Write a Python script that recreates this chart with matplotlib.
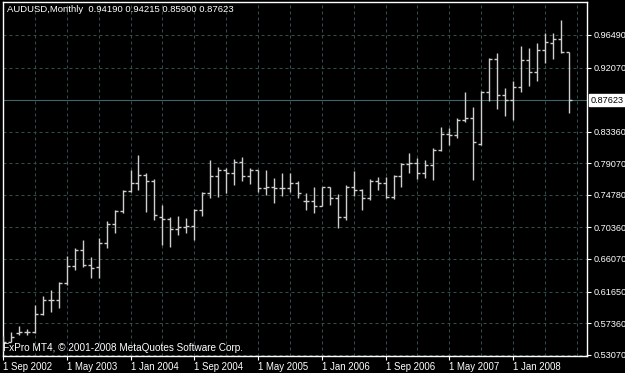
import matplotlib
matplotlib.use("Agg")
import matplotlib.pyplot as plt
import numpy as np

# AUDUSD monthly bars, Sep 2002 .. Aug 2008
opens = [0.540, 0.548, 0.560, 0.5615, 0.5615, 0.586, 0.605, 0.605, 0.628, 0.651,
         0.673, 0.652, 0.650, 0.683, 0.708, 0.7265, 0.753, 0.7645, 0.775, 0.766,
         0.718, 0.715, 0.701, 0.704, 0.705, 0.727, 0.750, 0.774, 0.782, 0.777,
         0.793, 0.773, 0.7817, 0.757, 0.758, 0.757, 0.757, 0.764, 0.740, 0.740,
         0.733, 0.758, 0.743, 0.718, 0.759, 0.754, 0.743, 0.767, 0.764, 0.7445,
         0.7736, 0.7899, 0.791, 0.778, 0.788, 0.809, 0.831, 0.829, 0.849, 0.852,
         0.8166, 0.888, 0.932, 0.884, 0.8767, 0.8948, 0.931, 0.914, 0.9446, 0.9537,
         0.959, 0.94190]
highs = [0.5565, 0.561, 0.569, 0.566, 0.5976, 0.611, 0.619, 0.629, 0.665, 0.675,
         0.687, 0.664, 0.6895, 0.7116, 0.7275, 0.7546, 0.782, 0.8015, 0.778, 0.769,
         0.7342, 0.7175, 0.719, 0.716, 0.7284, 0.752, 0.7953, 0.7853, 0.784, 0.796,
         0.7997, 0.784, 0.782, 0.7817, 0.770, 0.777, 0.777, 0.766, 0.750, 0.759,
         0.759, 0.759, 0.749, 0.761, 0.7804, 0.7555, 0.769, 0.7725, 0.7725, 0.775,
         0.7916, 0.805, 0.7976, 0.795, 0.812, 0.8405, 0.8383, 0.852, 0.888, 0.8676,
         0.889, 0.934, 0.940, 0.8926, 0.9025, 0.950, 0.9469, 0.9545, 0.967, 0.967,
         0.9853, 0.94215]
lows = [0.536, 0.5474, 0.557, 0.558, 0.560, 0.585, 0.589, 0.594, 0.626, 0.646,
        0.650, 0.635, 0.635, 0.675, 0.696, 0.723, 0.751, 0.755, 0.725, 0.714,
        0.680, 0.677, 0.6935, 0.696, 0.686, 0.719, 0.743, 0.745, 0.750, 0.761,
        0.766, 0.763, 0.752, 0.748, 0.737, 0.746, 0.752, 0.743, 0.727, 0.723,
        0.732, 0.734, 0.7026, 0.713, 0.746, 0.727, 0.741, 0.755, 0.743, 0.742,
        0.759, 0.777, 0.769, 0.770, 0.768, 0.807, 0.816, 0.8255, 0.8463, 0.768,
        0.815, 0.875, 0.865, 0.8553, 0.850, 0.888, 0.895, 0.903, 0.9265, 0.932,
        0.940, 0.85900]
closes = [0.548, 0.555, 0.562, 0.5615, 0.586, 0.605, 0.605, 0.628, 0.651, 0.673,
          0.652, 0.649, 0.683, 0.708, 0.7265, 0.753, 0.7645, 0.775, 0.766, 0.721,
          0.715, 0.701, 0.704, 0.705, 0.727, 0.750, 0.774, 0.782, 0.777, 0.793,
          0.773, 0.7817, 0.757, 0.758, 0.757, 0.757, 0.764, 0.750, 0.740, 0.733,
          0.758, 0.743, 0.718, 0.759, 0.754, 0.743, 0.767, 0.764, 0.7445, 0.7736,
          0.7899, 0.791, 0.778, 0.788, 0.809, 0.831, 0.829, 0.849, 0.852, 0.819,
          0.888, 0.932, 0.884, 0.8767, 0.8948, 0.931, 0.914, 0.9446, 0.956, 0.959,
          0.9423, 0.87623]

price_ticks = [0.53070, 0.57360, 0.61650, 0.66070, 0.70360, 0.74780,
               0.79070, 0.83360, 0.92070, 0.96490]
date_labels = ["1 Sep 2002", "1 May 2003", "1 Jan 2004", "1 Sep 2004", "1 May 2005",
               "1 Jan 2006", "1 Sep 2006", "1 May 2007", "1 Jan 2008"]
last_price = 0.87623

W, H = 625, 373
FONT = "Liberation Sans"
GRID = "#2f4f4f"
BAR = "#cfcfcf"

fig = plt.figure(figsize=(W / 100, H / 100), dpi=100)
fig.patch.set_facecolor("black")
ax = fig.add_axes([3 / W, 1 - 356 / H, 584 / W, 354 / H])
ax.set_facecolor("black")

n = len(closes)
x = np.arange(n)
px = 1 / 7.97  # one pixel in bar units
ax.set_xlim(0, 584 * px)
ax.set_ylim(0.5289, 1.0097)

# grid
for gx in range(4, 73, 4):
    ax.axvline(gx, color=GRID, lw=0.72, ls=(0, (3, 3)), zorder=1)
for gy in price_ticks + [0.87650]:
    ax.axhline(gy, color=GRID, lw=0.72, ls=(0, (3, 3)), zorder=1)

# price line
ax.axhline(last_price, color="#3e6666", lw=0.8, zorder=2)

# OHLC bars
ax.vlines(x, lows, highs, color=BAR, lw=1.0, zorder=3)
ax.hlines(opens, x - 3 * px, x, color=BAR, lw=1.0, zorder=3)
ax.hlines(closes, x, x + 3 * px, color=BAR, lw=1.0, zorder=3)

for s in ax.spines.values():
    s.set_color("white")
    s.set_linewidth(1.0)

ax.yaxis.tick_right()
ax.set_yticks(price_ticks)
ax.set_yticklabels(["%.5f" % p for p in price_ticks])
ax.set_xticks(np.arange(0, 8 * len(date_labels), 8))
ax.set_xticklabels(date_labels)
for lbl in ax.get_xticklabels():
    lbl.set_horizontalalignment("left")
ax.tick_params(colors="white", labelsize=6.6, length=3, width=0.8, pad=1.5)
ax.tick_params(axis="x", labelsize=6.9)
for lbl in ax.get_xticklabels() + ax.get_yticklabels():
    lbl.set_family(FONT)

# current price box
ax.annotate("%.5f" % last_price, xy=(1, last_price), xycoords=("axes fraction", "data"),
            xytext=(2.5, 0), textcoords="offset points", ha="left", va="center",
            fontsize=6.6, family=FONT, color="black", zorder=5,
            bbox=dict(boxstyle="square,pad=0.15", fc="white", ec="white"),
            annotation_clip=False)

fig.text(7 / W, 1 - 10 / H, "AUDUSD,Monthly  0.94190 0.94215 0.85900 0.87623",
         color="white", fontsize=6.8, family=FONT, va="center", ha="left")
fig.text(3 / W, 1 - 348 / H, "FxPro MT4, \u00a9 2001-2008 MetaQuotes Software Corp.",
         color="white", fontsize=7.2, family=FONT, va="center", ha="left")

fig.savefig("out.png", dpi=100, facecolor="black")
